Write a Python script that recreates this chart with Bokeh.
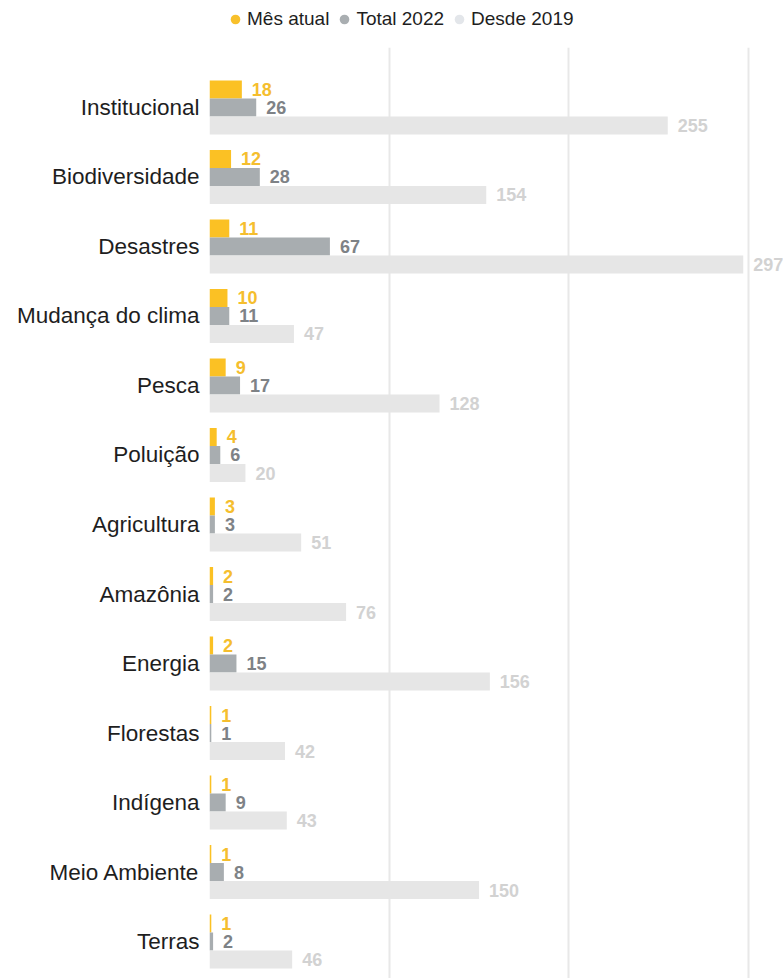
from bokeh.plotting import figure
from bokeh.layouts import column
from bokeh.models import Range1d, FixedTicker, Legend, LegendItem
from bokeh.embed import file_html
from bokeh.resources import INLINE
from bokeh.core.properties import value
import numpy as np

categories = ["Institucional", "Biodiversidade", "Desastres", "Mudança do clima", "Pesca",
              "Poluição", "Agricultura", "Amazônia", "Energia", "Florestas", "Indígena",
              "Meio Ambiente", "Terras"]
mes_atual = [18, 12, 11, 10, 9, 4, 3, 2, 2, 1, 1, 1, 1]
total_2022 = [26, 28, 67, 11, 17, 6, 3, 2, 15, 1, 9, 8, 2]
desde_2019 = [255, 154, 297, 47, 128, 20, 51, 76, 156, 42, 43, 150, 46]
series_names = ["Mês atual", "Total 2022", "Desde 2019"]
grid_ticks = [0, 100, 200, 300]

bar_colors = ["#FBC124", "#A8ADB0", "#E6E6E6"]
label_colors = ["#F5BE2E", "#7E8286", "#D2D2D2"]
legend_colors = ["#F8C02B", "#A9AEB1", "#E3E6EA"]
FONT = "Liberation Sans"

n = len(categories)
pos = np.arange(n)[::-1].astype(float)
series = [mes_atual, total_2022, desde_2019]

W, TOP, H = 783, 47, 931
LEFT = 209

# ---- legend strip on top ----
lp = figure(width=W, height=TOP, x_axis_location=None, y_axis_location=None,
            output_backend="svg", toolbar_location=None, min_border=0,
            min_border_left=LEFT,
            outline_line_color=None, background_fill_color="white", border_fill_color="white")
lp.xgrid.grid_line_color = None
lp.ygrid.grid_line_color = None
legend_renderers = []
for vals, gc in zip(series, legend_colors):
    # zero-size markers: only used to draw the round legend swatches
    legend_renderers.append(lp.scatter(x=vals, y=pos, marker="circle", size=0,
                                       fill_color=gc, line_color=None))
items = [LegendItem(label=name, renderers=[r]) for name, r in zip(series_names, legend_renderers)]
leg_h = 26
leg_top = 6
legend = Legend(items=items, orientation="horizontal",
                location=(223 - LEFT, TOP - leg_top - leg_h),
                glyph_width=24, glyph_height=leg_h, label_standoff=0, spacing=3,
                padding=0, margin=0, border_line_color=None, background_fill_alpha=0,
                label_text_font=FONT, label_text_font_size="19px", label_text_color="#1E1E1E",
                label_height=20)
lp.add_layout(legend, "center")

# ---- main chart ----
p = figure(width=W, height=H, x_range=Range1d(0, 319.4), y_range=Range1d(-0.532, 12.863),
           x_axis_location=None, output_backend="svg", toolbar_location=None,
           min_border_left=LEFT, min_border_right=0, min_border_bottom=0, min_border_top=0,
           outline_line_color=None, background_fill_color="white", border_fill_color="white")

bar_h = 0.259
offsets = [bar_h, 0.0, -bar_h]

for vals, off, bc, lc in zip(series, offsets, bar_colors, label_colors):
    y = pos + off
    p.hbar(y=y, left=0, right=vals, height=bar_h, fill_color=bc, line_color=None)
    p.text(x=vals, y=y, text=[str(v) for v in vals], x_offset=10,
           text_align="left", text_baseline="middle", text_font=value(FONT),
           text_font_style="bold", text_font_size="18px", text_color=lc)

p.xgrid.ticker = FixedTicker(ticks=grid_ticks)
p.xgrid.grid_line_color = "#E8E8E8"
p.xgrid.grid_line_width = 2
p.ygrid.grid_line_color = None

ax = p.yaxis[0]
ax.ticker = FixedTicker(ticks=list(pos))
ax.major_label_overrides = {float(pv): c for pv, c in zip(pos, categories)}
ax.axis_line_color = None
ax.major_tick_line_color = None
ax.minor_tick_line_color = None
ax.major_tick_out = 0
ax.major_tick_in = 0
ax.major_label_standoff = 10
ax.major_label_text_font = FONT
ax.major_label_text_font_size = "22.5px"
ax.major_label_text_color = "#1E1E1E"

layout = column(lp, p, spacing=0)
open("out.html", "w").write(file_html(layout, INLINE))
